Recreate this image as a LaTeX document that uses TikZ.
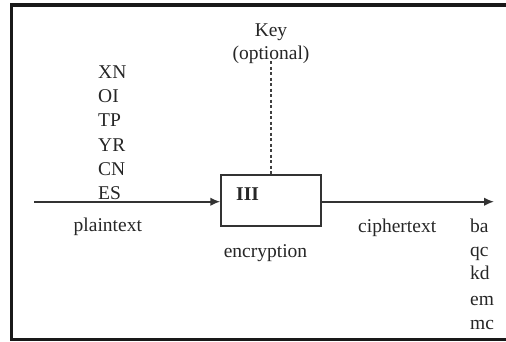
\documentclass[tikz,border=0pt]{standalone}
\usepackage{fontspec}
\setmainfont{Liberation Serif}
\usetikzlibrary{arrows.meta}

\begin{document}
\begin{tikzpicture}[x=1pt,y=-1pt,
  lbl/.style={inner sep=0pt,font=\fontsize{19.5}{24}\selectfont,text=black!85},
  flow/.style={line width=1.6pt,draw=black!80,-{Latex[length=10pt,width=8.5pt]}},
  blockbox/.style={draw=black!80,line width=1.5pt,minimum width=100pt,minimum height=51pt,inner sep=0pt}]
  \useasboundingbox (0,0) rectangle (506,341);
  \clip (0,0) rectangle (506,341);

  % outer frame, open past the right edge
  \draw[line width=3.6pt,draw=black!90] (11.3,5) rectangle (530,339.3);

  % encryption block
  \node[blockbox] (enc) at (271,200.5) {};
  \node[lbl,font=\fontsize{19.5}{24}\selectfont\bfseries,anchor=base west] (iii) at (236,200.7) {III};
  \node[lbl,anchor=base] (enclbl) at (265.5,257.3) {encryption};

  % plaintext input
  \coordinate (src) at (34,201.7);
  \draw[flow] (src) -- (src -| enc.west);
  \node[lbl,anchor=base west] (pt) at (73.5,231.7) {plaintext};
  \foreach \w [count=\i from 0] in {XN,OI,TP,YR,CN,ES}
    \node[lbl,anchor=base west] (p\i) at (98,78.5+24.2*\i) {\w};

  % ciphertext output
  \coordinate (dst) at (494,201.7);
  \draw[flow] (enc.east |- dst) -- (dst);
  \node[lbl,anchor=base west] (ct) at (358,232) {ciphertext};
  \node[lbl,anchor=base west] (c0) at (470,232.3) {ba};
  \node[lbl,anchor=base west] (c1) at (470,256.7) {qc};
  \node[lbl,anchor=base west] (c2) at (470,279.8) {kd};
  \node[lbl,anchor=base west] (c3) at (470,305) {em};
  \node[lbl,anchor=base west] (c4) at (470,329.3) {mc};

  % optional key
  \node[lbl,anchor=base] (key) at (271,36.7) {Key};
  \node[lbl,anchor=base] (opt) at (271,59) {(optional)};
  \draw[line width=1.3pt,draw=black!75,dash pattern=on 3pt off 2.5pt] (271,61) -- (enc.north);
\end{tikzpicture}
\end{document}
